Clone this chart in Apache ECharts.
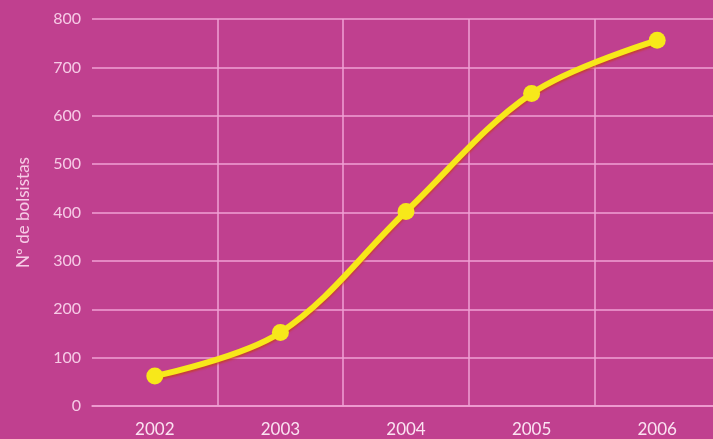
<!DOCTYPE html>
<html>
<head>
<meta charset="utf-8">
<script src="https://cdn.jsdelivr.net/npm/echarts@6/dist/echarts.min.js"></script>
<style>
  html, body { margin: 0; padding: 0; background: #c0408f; overflow: hidden; }
  #chart { width: 720px; height: 439px; }
</style>
</head>
<body>
<div id="chart"></div>
<script>
const years = ['2002', '2003', '2004', '2005', '2006'];
const bolsistas = [62, 152, 402, 646, 756];

const gridPink = '#f0a0d4';
const labelPink = '#f6cbe6';

// the plot runs a little past the right edge of the window, as in the original
const myChart = echarts.init(document.getElementById('chart'), null, { width: 720, height: 439 });

myChart.setOption({
  backgroundColor: '#c0408f',
  grid: { left: 92, right: 0, top: 19, bottom: 33 },
  xAxis: {
    type: 'category',
    data: years,
    boundaryGap: true,
    axisLine: { show: true, lineStyle: { color: gridPink, width: 1.5 } },
    axisTick: { show: false },
    axisLabel: { color: '#fbe3f2', fontSize: 17, fontFamily: 'Lato', margin: 15 },
    splitLine: {
      show: true,
      lineStyle: { color: ['transparent', gridPink, gridPink, gridPink, gridPink, 'transparent'], width: 1.5 },
    },
  },
  yAxis: {
    type: 'value',
    min: 0,
    max: 800,
    interval: 100,
    name: 'Nº de bolsistas',
    nameLocation: 'middle',
    nameGap: 60,
    nameTextStyle: { color: labelPink, fontSize: 17, fontFamily: 'Lato' },
    axisLine: { show: false },
    axisTick: { show: false },
    axisLabel: { color: labelPink, fontSize: 16, fontFamily: 'Lato', margin: 11 },
    splitLine: { lineStyle: { color: gridPink, width: 1.5 } },
  },
  series: [{
    type: 'line',
    data: bolsistas,
    smooth: 0.35,
    symbol: 'circle',
    symbolSize: 17,
    itemStyle: { color: '#f7e81a' },
    lineStyle: {
      color: '#f7e81a',
      width: 6,
      shadowColor: 'rgba(200, 60, 20, 0.7)',
      shadowOffsetY: 2,
      shadowBlur: 2,
    },
  }],
});
</script>
</body>
</html>
